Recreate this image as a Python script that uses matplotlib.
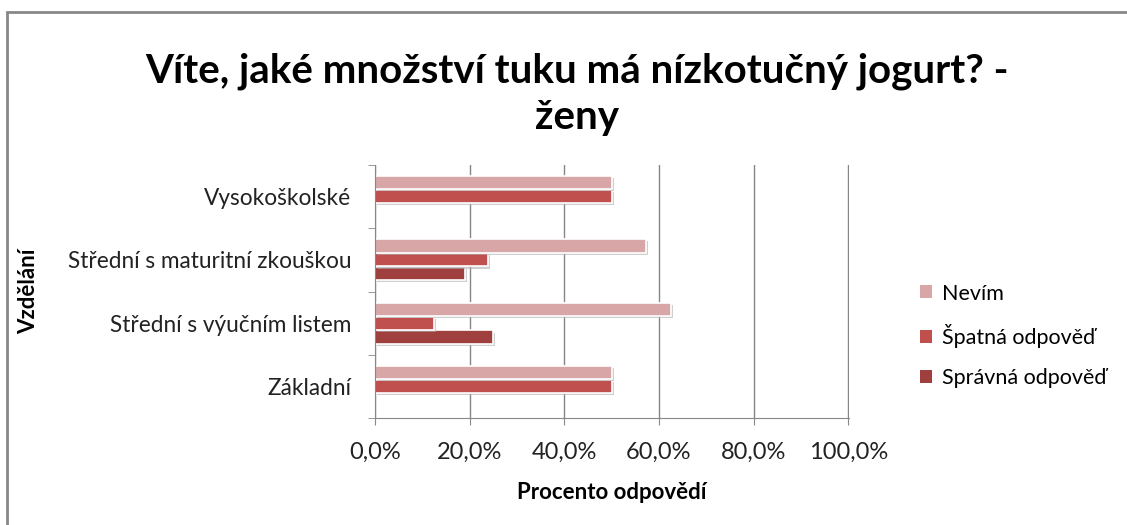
import matplotlib

matplotlib.use("Agg")
import matplotlib.pyplot as plt
import numpy as np
from matplotlib import patheffects
from matplotlib.patches import Patch, Rectangle
from matplotlib.ticker import FuncFormatter, MultipleLocator

plt.rcParams["font.family"] = ["Lato", "DejaVu Sans"]

categories = ["Základní", "Střední s výučním listem",
              "Střední s maturitní zkouškou", "Vysokoškolské"]
series_names = ["Správná odpověď", "Špatná odpověď", "Nevím"]
spravna = [0.0, 25.0, 19.0, 0.0]
spatna = [50.0, 12.5, 23.8, 50.0]
nevim = [50.0, 62.5, 57.2, 50.0]
colors = ["#A0403E", "#C0504D", "#D9A6A7"]

fig = plt.figure(figsize=(11.27, 5.25), dpi=100)
ax = fig.add_axes([375 / 1127, 1 - 418 / 525, (849 - 375) / 1127, (418 - 165) / 525])

y = np.arange(len(categories))
h = 0.22
shadow = [patheffects.SimplePatchShadow(offset=(1.5, -1.5), shadow_rgbFace="#b0b0b0", alpha=0.6),
          patheffects.Normal()]
for i, vals in enumerate([spravna, spatna, nevim]):
    bars = ax.barh(y + (i - 1) * h, vals, height=h * 0.95, color=colors[i],
                   edgecolor="white", linewidth=1.2, label=series_names[i])
    for b, v in zip(bars, vals):
        if v > 0:
            b.set_path_effects(shadow)
        else:
            b.set_visible(False)

ax.set_xlim(0, 100.15)
ax.set_ylim(-0.5, len(categories) - 0.5)
ax.xaxis.set_major_locator(MultipleLocator(20))
ax.xaxis.set_major_formatter(FuncFormatter(lambda v, p: f"{v:.1f}%".replace(".", ",")))
ax.set_yticks(y)
ax.set_yticklabels(categories)
ax.set_yticks(np.arange(-0.5, len(categories), 1), minor=True)
ax.tick_params(axis="y", which="major", length=0, pad=17, labelsize=16.3, colors="#222222")
ax.tick_params(axis="y", which="minor", length=5, color="#888888", direction="out")
ax.tick_params(axis="x", length=5, color="#888888", labelsize=17, colors="#222222", pad=12)
ax.grid(axis="x", color="#868686", linewidth=1)
ax.set_axisbelow(True)
for s in ["top", "right"]:
    ax.spines[s].set_visible(False)
ax.spines["left"].set_color("#888888")
ax.spines["bottom"].set_color("#888888")

ax.set_xlabel("Procento odpovědí", fontsize=16, fontweight="bold", labelpad=14)
ax.set_ylabel("Vzdělání", fontsize=16, fontweight="bold")
ax.yaxis.set_label_coords(-0.708, 0.5)

fig.text(0.512, 1 - 94 / 525, "Víte, jaké množství tuku má nízkotučný jogurt? -\nženy",
         ha="center", va="center", fontsize=29, fontweight="bold", linespacing=1.3)

handles = [Patch(facecolor=c) for c in colors[::-1]]
fig.legend(handles=handles, labels=series_names[::-1],
           loc="center left", bbox_to_anchor=(901 / 1127, 1 - 336 / 525),
           frameon=False, fontsize=15.5, handlelength=0.55, handleheight=0.55,
           handletextpad=0.45, labelspacing=0.95)

fig.patches.append(Rectangle((7 / 1127, -0.1), 1.2, 1 - 12 / 525 + 0.1,
                             transform=fig.transFigure, fill=False,
                             edgecolor="#888888", linewidth=2))

fig.savefig("out.png", dpi=100, facecolor="white")
